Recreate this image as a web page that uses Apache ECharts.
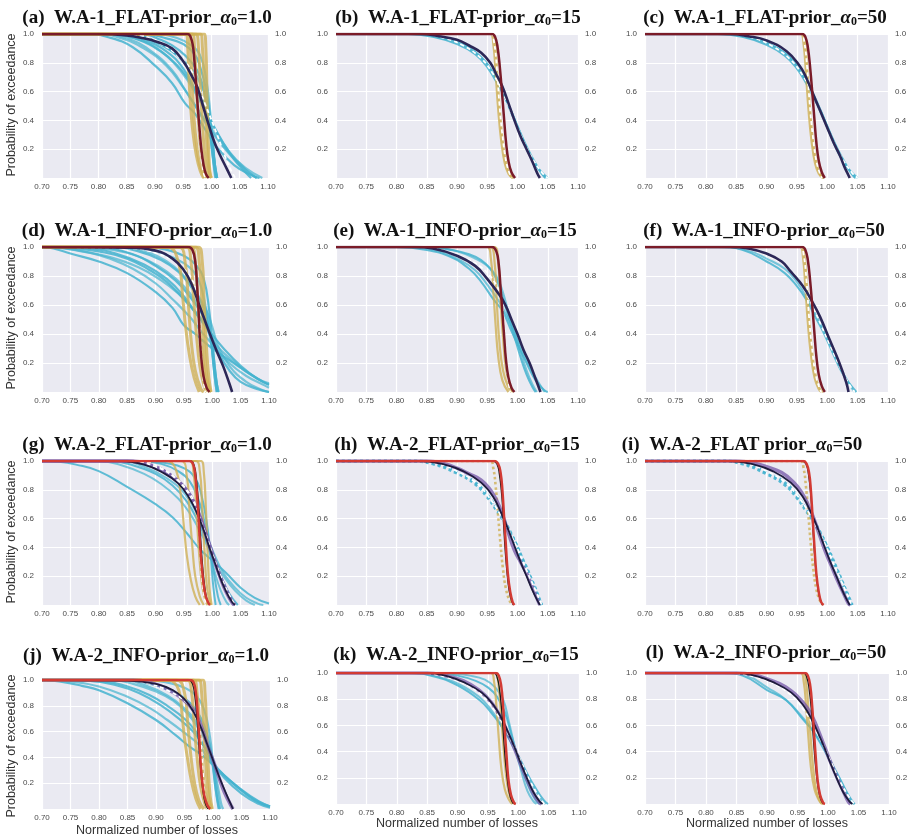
<!DOCTYPE html>
<html><head><meta charset="utf-8">
<script src="https://cdn.jsdelivr.net/npm/echarts@6/dist/echarts.min.js"></script>
<style>html,body{margin:0;padding:0;background:#fff}#c{width:911px;height:839px}</style>
</head><body><div id="c"></div><script>
// ---------- text / labels ----------
const panelLetters = ['a','b','c','d','e','f','g','h','i','j','k','l'];
const panelNames = ['W.A-1_FLAT-prior_','W.A-1_FLAT-prior_','W.A-1_FLAT-prior_',
  'W.A-1_INFO-prior_','W.A-1_INFO-prior_','W.A-1_INFO-prior_',
  'W.A-2_FLAT-prior_','W.A-2_FLAT-prior_','W.A-2_FLAT prior_',
  'W.A-2_INFO-prior_','W.A-2_INFO-prior_','W.A-2_INFO-prior_'];
const alphaValues = ['1.0','15','50','1.0','15','50','1.0','15','50','1.0','15','50'];
const yAxisTitle = 'Probability of exceedance';
const xAxisTitle = 'Normalized number of losses';
const xRange = [0.70, 1.10];
const xStep = 0.05;
const yTickLabels = ['0.2','0.4','0.6','0.8','1.0'];

// ---------- (a) ----------
const A_cyan = [
 [[0.70,1],[0.78,1],[0.82,0.975],[0.86,0.91],[0.90,0.78],[0.93,0.66],[0.953,0.52],[0.97,0.45],[0.99,0.33],[1.01,0.21],[1.04,0.09],[1.07,0.02],[1.085,0]],
 [[0.70,1],[0.80,1],[0.84,0.97],[0.88,0.90],[0.92,0.78],[0.95,0.63],[0.97,0.51],[0.99,0.38],[1.02,0.22],[1.05,0.09],[1.08,0]],
 [[0.70,1],[0.82,1],[0.87,0.96],[0.91,0.88],[0.94,0.78],[0.96,0.68],[0.98,0.56],[0.992,0.46],[0.998,0.30],[1.004,0.10],[1.009,0]],
 [[0.70,1],[0.85,1],[0.89,0.96],[0.93,0.88],[0.96,0.78],[0.98,0.66],[0.993,0.52],[1.0,0.35],[1.005,0.12],[1.01,0]],
 [[0.70,1],[0.88,1],[0.92,0.97],[0.95,0.93],[0.97,0.86],[0.98,0.77],[0.99,0.62],[0.998,0.40],[1.004,0.15],[1.01,0]],
 [[0.70,1],[0.83,1],[0.88,0.95],[0.92,0.85],[0.95,0.72],[0.97,0.60],[0.99,0.46],[1.01,0.31],[1.03,0.19],[1.06,0.06],[1.08,0]],
 [[0.70,1],[0.86,1],[0.90,0.95],[0.94,0.85],[0.96,0.75],[0.975,0.63],[0.99,0.49],[1.0,0.39],[1.02,0.25],[1.04,0.13],[1.06,0.04],[1.07,0]],
 [[0.70,1],[0.90,1],[0.94,0.97],[0.965,0.92],[0.98,0.85],[0.99,0.70],[0.998,0.45],[1.003,0.20],[1.008,0]],
 [[0.70,1],[0.84,1],[0.88,0.96],[0.92,0.88],[0.95,0.76],[0.97,0.62],[0.985,0.50],[0.995,0.42],[1.002,0.25],[1.007,0.06],[1.01,0]],
 [[0.70,1],[0.81,1],[0.85,0.97],[0.89,0.89],[0.93,0.75],[0.955,0.60],[0.975,0.48],[1.0,0.34],[1.03,0.18],[1.06,0.07],[1.09,0]],
 [[0.70,1],[0.87,1],[0.91,0.96],[0.945,0.88],[0.965,0.80],[0.978,0.72],[0.988,0.58],[0.995,0.40],[1.0,0.22],[1.005,0.05],[1.007,0]]
];
const A_gold = [
 [[0.70,1],[0.955,1],[0.958,0.9],[0.96,0.7],[0.963,0.5],[0.967,0.32],[0.973,0.16],[0.98,0.05],[0.986,0]],
 [[0.70,1],[0.96,1],[0.963,0.9],[0.966,0.65],[0.969,0.42],[0.974,0.22],[0.98,0.08],[0.988,0]],
 [[0.70,1],[0.966,1],[0.97,0.9],[0.973,0.65],[0.977,0.40],[0.981,0.2],[0.987,0.06],[0.992,0]],
 [[0.70,1],[0.972,1],[0.977,0.9],[0.98,0.65],[0.984,0.38],[0.988,0.16],[0.993,0.04],[0.996,0]],
 [[0.70,1],[0.98,1],[0.984,0.9],[0.987,0.65],[0.99,0.38],[0.993,0.15],[0.997,0.03],[1.0,0]],
 [[0.70,1],[0.987,1],[0.99,0.9],[0.992,0.6],[0.994,0.3],[0.996,0.1],[0.999,0]]
];
const A_red = [[0.70,1],[0.958,1],[0.963,0.98],[0.967,0.92],[0.970,0.80],[0.973,0.64],[0.976,0.48],[0.979,0.33],[0.982,0.20],[0.986,0.09],[0.99,0.03],[0.995,0]];
const A_navy = [[0.70,1],[0.80,1],[0.85,0.99],[0.88,0.97],[0.90,0.95],[0.93,0.90],[0.95,0.81],[0.965,0.71],[0.975,0.63],[0.985,0.50],[0.995,0.37],[1.005,0.25],[1.015,0.16],[1.025,0.08],[1.035,0]];
const A_white = [
 [[0.70,1],[0.85,1],[0.89,0.97],[0.92,0.92],[0.95,0.82],[0.965,0.74],[0.972,0.66],[0.976,0.5],[0.979,0.3],[0.983,0.12],[0.987,0.02],[0.99,0]],
 [[0.70,1],[0.86,1],[0.90,0.95],[0.94,0.85],[0.97,0.68],[0.99,0.50],[1.01,0.30],[1.025,0.14],[1.035,0.05],[1.042,0]]
];

// ---------- (b) ----------
const B_cyan = [
 [[0.70,1],[0.82,1],[0.86,0.98],[0.90,0.93],[0.93,0.86],[0.95,0.77],[0.97,0.63],[0.98,0.55],[0.99,0.45],[1.0,0.35],[1.01,0.25],[1.02,0.16],[1.03,0.09],[1.04,0.04],[1.05,0]],
 [[0.70,1],[0.83,1],[0.87,0.975],[0.90,0.94],[0.93,0.87],[0.95,0.79],[0.97,0.65],[0.98,0.56],[0.99,0.46],[1.0,0.36],[1.01,0.26],[1.02,0.17],[1.03,0.09],[1.04,0.03],[1.047,0]],
 [[0.70,1],[0.84,1],[0.88,0.97],[0.91,0.93],[0.94,0.84],[0.96,0.73],[0.975,0.60],[0.99,0.46],[1.0,0.36],[1.015,0.22],[1.03,0.10],[1.042,0.02],[1.046,0]]
];
const B_gold = [
 [[0.70,1],[0.955,1],[0.96,0.93],[0.964,0.72],[0.968,0.48],[0.973,0.26],[0.979,0.10],[0.985,0.03],[0.992,0]],
 [[0.70,1],[0.958,1],[0.963,0.92],[0.967,0.70],[0.971,0.46],[0.976,0.24],[0.982,0.09],[0.988,0.02],[0.994,0]]
];
const B_red = [[0.70,1],[0.958,1],[0.963,0.98],[0.967,0.91],[0.971,0.76],[0.975,0.56],[0.978,0.40],[0.981,0.25],[0.985,0.12],[0.99,0.04],[0.996,0]];
const B_navy = [[0.70,1],[0.84,1],[0.87,0.985],[0.90,0.96],[0.92,0.92],[0.94,0.87],[0.955,0.80],[0.965,0.72],[0.975,0.635],[0.985,0.52],[0.995,0.40],[1.005,0.29],[1.015,0.20],[1.025,0.11],[1.033,0.03],[1.037,0]];
const B_white = [
 [[0.70,1],[0.84,1],[0.88,0.97],[0.91,0.92],[0.94,0.83],[0.96,0.72],[0.975,0.60],[0.99,0.45],[1.0,0.35],[1.02,0.17],[1.04,0.04],[1.05,0]],
 [[0.70,1],[0.956,1],[0.961,0.95],[0.966,0.76],[0.97,0.52],[0.975,0.30],[0.982,0.10],[0.99,0]]
];

// ---------- (c) ----------
const C_cyan = [
 [[0.70,1],[0.82,1],[0.86,0.98],[0.90,0.925],[0.93,0.85],[0.95,0.76],[0.965,0.66],[0.98,0.54],[0.99,0.45],[1.0,0.35],[1.01,0.25],[1.02,0.16],[1.03,0.09],[1.04,0.04],[1.05,0]],
 [[0.70,1],[0.83,1],[0.87,0.975],[0.90,0.935],[0.93,0.87],[0.95,0.78],[0.97,0.64],[0.98,0.56],[0.99,0.46],[1.0,0.36],[1.01,0.26],[1.02,0.17],[1.03,0.09],[1.04,0.03],[1.047,0]],
 [[0.70,1],[0.84,1],[0.88,0.97],[0.91,0.92],[0.94,0.83],[0.96,0.71],[0.975,0.59],[0.99,0.46],[1.0,0.36],[1.015,0.22],[1.03,0.10],[1.042,0.02],[1.046,0]]
];
const C_gold = [
 [[0.70,1],[0.956,1],[0.961,0.93],[0.965,0.72],[0.969,0.48],[0.974,0.26],[0.98,0.10],[0.986,0.03],[0.993,0]],
 [[0.70,1],[0.959,1],[0.964,0.92],[0.968,0.70],[0.972,0.46],[0.977,0.24],[0.983,0.09],[0.989,0.02],[0.995,0]]
];
const C_red = [[0.70,1],[0.959,1],[0.964,0.98],[0.968,0.91],[0.972,0.76],[0.976,0.56],[0.979,0.40],[0.982,0.25],[0.986,0.12],[0.991,0.04],[0.996,0]];
const C_navy = [[0.70,1],[0.84,1],[0.87,0.985],[0.90,0.956],[0.933,0.88],[0.955,0.776],[0.965,0.70],[0.977,0.58],[0.988,0.47],[0.999,0.36],[1.01,0.25],[1.021,0.154],[1.028,0.08],[1.034,0.027],[1.037,0]];
const C_white = [
 [[0.70,1],[0.84,1],[0.88,0.97],[0.91,0.915],[0.94,0.82],[0.96,0.71],[0.975,0.59],[0.99,0.45],[1.0,0.35],[1.02,0.17],[1.04,0.04],[1.05,0]],
 [[0.70,1],[0.957,1],[0.962,0.95],[0.967,0.76],[0.971,0.52],[0.976,0.30],[0.983,0.10],[0.991,0]]
];

// ---------- (d) ----------
const D_cyan = [
 [[0.70,1],[0.72,0.99],[0.75,0.955],[0.80,0.90],[0.85,0.82],[0.90,0.69],[0.93,0.58],[0.95,0.46],[0.97,0.40],[1.0,0.30],[1.03,0.22],[1.06,0.14],[1.09,0.07],[1.10,0.05]],
 [[0.70,1],[0.74,0.99],[0.78,0.965],[0.82,0.92],[0.86,0.85],[0.90,0.75],[0.93,0.64],[0.96,0.52],[0.98,0.42],[1.0,0.33],[1.03,0.20],[1.06,0.11],[1.09,0.05],[1.10,0.03]],
 [[0.70,1],[0.76,0.99],[0.80,0.97],[0.85,0.92],[0.89,0.84],[0.92,0.76],[0.95,0.64],[0.97,0.55],[0.99,0.45],[1.0,0.38],[1.01,0.28],[1.03,0.15],[1.05,0.07],[1.08,0.02],[1.10,0]],
 [[0.70,1],[0.80,0.99],[0.85,0.96],[0.89,0.90],[0.92,0.83],[0.95,0.73],[0.97,0.63],[0.985,0.52],[0.995,0.40],[1.0,0.28],[1.005,0.12],[1.01,0.02],[1.012,0]],
 [[0.70,1],[0.82,1],[0.87,0.97],[0.91,0.91],[0.94,0.83],[0.96,0.74],[0.98,0.62],[0.99,0.52],[0.998,0.35],[1.003,0.15],[1.008,0]],
 [[0.70,1],[0.86,1],[0.90,0.97],[0.93,0.93],[0.96,0.86],[0.975,0.78],[0.985,0.65],[0.995,0.45],[1.0,0.28],[1.005,0.08],[1.008,0]],
 [[0.70,1],[0.78,0.99],[0.83,0.955],[0.88,0.88],[0.92,0.78],[0.95,0.66],[0.975,0.52],[0.995,0.42],[1.02,0.30],[1.05,0.18],[1.08,0.09],[1.10,0.05]],
 [[0.70,1],[0.84,0.995],[0.88,0.97],[0.92,0.90],[0.95,0.80],[0.97,0.70],[0.99,0.56],[1.0,0.45],[1.01,0.32],[1.03,0.18],[1.06,0.07],[1.09,0.01],[1.10,0]],
 [[0.70,1],[0.88,1],[0.92,0.98],[0.95,0.94],[0.97,0.88],[0.985,0.78],[0.995,0.55],[1.0,0.35],[1.005,0.15],[1.01,0]],
 [[0.70,1],[0.73,0.995],[0.77,0.97],[0.82,0.93],[0.87,0.86],[0.91,0.77],[0.94,0.68],[0.965,0.58],[0.985,0.48],[1.0,0.36],[1.02,0.27],[1.05,0.17],[1.08,0.09],[1.10,0.06]],
 [[0.70,1],[0.80,0.995],[0.86,0.95],[0.90,0.87],[0.935,0.77],[0.96,0.66],[0.98,0.55],[0.993,0.45],[1.0,0.32],[1.006,0.12],[1.01,0]]
];
const D_gold = [
 [[0.70,1],[0.92,1],[0.94,0.90],[0.948,0.65],[0.953,0.45],[0.96,0.25],[0.968,0.10],[0.977,0]],
 [[0.70,1],[0.94,1],[0.952,0.90],[0.958,0.6],[0.963,0.35],[0.97,0.15],[0.98,0.02],[0.985,0]],
 [[0.70,1],[0.955,1],[0.962,0.92],[0.967,0.65],[0.972,0.40],[0.978,0.18],[0.985,0.05],[0.99,0]],
 [[0.70,1],[0.962,1],[0.97,0.9],[0.975,0.6],[0.98,0.35],[0.986,0.14],[0.992,0.03],[0.995,0]],
 [[0.70,1],[0.97,1],[0.977,0.9],[0.982,0.6],[0.986,0.3],[0.99,0.12],[0.995,0.02],[0.998,0]],
 [[0.70,1],[0.975,1],[0.982,0.92],[0.986,0.6],[0.99,0.3],[0.994,0.1],[0.998,0]]
];
const D_red = [[0.70,1],[0.958,1],[0.965,0.98],[0.970,0.90],[0.973,0.75],[0.976,0.55],[0.978,0.38],[0.981,0.22],[0.985,0.10],[0.99,0.03],[0.995,0]];
const D_navy = [[0.70,1],[0.85,0.995],[0.90,0.975],[0.93,0.92],[0.95,0.84],[0.963,0.75],[0.978,0.59],[0.993,0.43],[1.007,0.29],[1.019,0.18],[1.03,0.06],[1.035,0]];
const D_white = [
 [[0.70,1],[0.86,0.99],[0.90,0.96],[0.93,0.91],[0.95,0.85],[0.965,0.77],[0.973,0.68],[0.977,0.5],[0.98,0.3],[0.984,0.1],[0.988,0]]
];

// ---------- (e) ----------
const E_cyan = [
 [[0.70,1],[0.80,1],[0.85,0.98],[0.89,0.93],[0.92,0.85],[0.94,0.76],[0.96,0.64],[0.975,0.56],[0.99,0.42],[1.0,0.33],[1.015,0.20],[1.03,0.08],[1.045,0.01],[1.05,0]],
 [[0.70,1],[0.83,1],[0.87,0.97],[0.90,0.92],[0.93,0.84],[0.95,0.74],[0.97,0.62],[0.985,0.50],[1.0,0.36],[1.015,0.22],[1.03,0.10],[1.04,0.03],[1.045,0]],
 [[0.70,1],[0.85,1],[0.89,0.98],[0.92,0.95],[0.94,0.91],[0.955,0.85],[0.965,0.78],[0.975,0.66],[0.985,0.52],[0.995,0.38],[1.005,0.24],[1.015,0.12],[1.025,0.03],[1.03,0]],
 [[0.70,1],[0.86,1],[0.90,0.97],[0.93,0.92],[0.95,0.87],[0.965,0.80],[0.975,0.70],[0.985,0.55],[0.995,0.42],[1.005,0.28],[1.015,0.15],[1.025,0.05],[1.032,0]]
];
const E_gold = [
 [[0.70,1],[0.95,1],[0.956,0.92],[0.96,0.7],[0.964,0.45],[0.968,0.25],[0.975,0.08],[0.985,0]],
 [[0.70,1],[0.955,1],[0.962,0.9],[0.966,0.6],[0.97,0.35],[0.976,0.15],[0.985,0.03],[0.99,0]],
 [[0.70,1],[0.962,1],[0.968,0.9],[0.972,0.62],[0.976,0.38],[0.981,0.16],[0.988,0.04],[0.993,0]]
];
const E_red = [[0.70,1],[0.958,1],[0.965,0.97],[0.969,0.88],[0.972,0.72],[0.975,0.55],[0.978,0.38],[0.981,0.22],[0.985,0.10],[0.99,0.03],[0.995,0]];
const E_navy = [[0.70,1],[0.83,1],[0.86,0.99],[0.90,0.94],[0.93,0.87],[0.95,0.78],[0.97,0.67],[0.98,0.60],[0.99,0.50],[1.0,0.40],[1.01,0.29],[1.02,0.20],[1.03,0.09],[1.038,0]];
const E_white = [
 [[0.70,1],[0.85,1],[0.88,0.97],[0.91,0.93],[0.94,0.86],[0.96,0.77],[0.972,0.66],[0.977,0.5],[0.98,0.3],[0.984,0.1],[0.988,0]]
];

// ---------- (f) ----------
const F_cyan = [
 [[0.70,1],[0.82,1],[0.86,0.98],[0.90,0.90],[0.93,0.82],[0.95,0.73],[0.965,0.64],[0.98,0.52],[0.995,0.40],[1.01,0.26],[1.025,0.13],[1.04,0.04],[1.048,0]],
 [[0.70,1],[0.83,1],[0.87,0.975],[0.90,0.92],[0.93,0.85],[0.95,0.76],[0.965,0.66],[0.98,0.54],[0.995,0.42],[1.01,0.28],[1.025,0.14],[1.04,0.03],[1.045,0]]
];
const F_gold = [
 [[0.70,1],[0.955,1],[0.96,0.93],[0.964,0.72],[0.968,0.48],[0.973,0.26],[0.979,0.10],[0.986,0.02],[0.99,0]],
 [[0.70,1],[0.958,1],[0.963,0.92],[0.967,0.70],[0.971,0.46],[0.976,0.24],[0.982,0.09],[0.988,0.02],[0.993,0]]
];
const F_red = [[0.70,1],[0.959,1],[0.964,0.98],[0.968,0.91],[0.972,0.76],[0.976,0.56],[0.979,0.40],[0.982,0.25],[0.986,0.12],[0.991,0.04],[0.996,0]];
const F_navy = [[0.70,1],[0.84,1],[0.87,0.99],[0.90,0.955],[0.925,0.90],[0.94,0.83],[0.96,0.73],[0.977,0.61],[0.988,0.52],[1.004,0.36],[1.02,0.20],[1.031,0.07],[1.035,0]];
const F_white = [
 [[0.70,1],[0.84,1],[0.88,0.975],[0.91,0.925],[0.94,0.84],[0.96,0.72],[0.975,0.60],[0.99,0.46],[1.005,0.32],[1.02,0.18],[1.035,0.06],[1.045,0]],
 [[0.70,1],[0.956,1],[0.961,0.95],[0.966,0.76],[0.97,0.52],[0.975,0.30],[0.982,0.10],[0.99,0]]
];

// ---------- (g) ----------
const G_cyan = [
 [[0.70,1],[0.73,0.995],[0.76,0.975],[0.80,0.93],[0.85,0.82],[0.90,0.70],[0.93,0.61],[0.955,0.50],[0.98,0.38],[1.0,0.31],[1.025,0.22],[1.05,0.12],[1.075,0.05],[1.10,0.01]],
 [[0.70,1],[0.80,1],[0.84,0.97],[0.88,0.91],[0.91,0.84],[0.94,0.74],[0.96,0.64],[0.98,0.50],[0.99,0.42],[1.0,0.32],[1.02,0.20],[1.04,0.10],[1.06,0.03],[1.075,0]],
 [[0.70,1],[0.82,1],[0.86,0.97],[0.90,0.91],[0.93,0.83],[0.955,0.72],[0.975,0.58],[0.99,0.44],[1.0,0.34],[1.015,0.20],[1.03,0.08],[1.045,0]],
 [[0.70,1],[0.85,1],[0.89,0.97],[0.92,0.92],[0.95,0.82],[0.97,0.68],[0.985,0.52],[0.995,0.38],[1.005,0.22],[1.015,0.10],[1.025,0.02],[1.03,0]],
 [[0.70,1],[0.87,1],[0.91,0.98],[0.94,0.93],[0.96,0.86],[0.975,0.74],[0.985,0.60],[0.995,0.42],[1.003,0.22],[1.01,0.06],[1.015,0]],
 [[0.70,1],[0.84,1],[0.88,0.96],[0.92,0.88],[0.95,0.78],[0.975,0.62],[0.99,0.48],[1.005,0.34],[1.02,0.22],[1.04,0.12],[1.06,0.05],[1.08,0.01],[1.09,0]],
 [[0.70,1],[0.88,1],[0.92,0.985],[0.95,0.95],[0.97,0.88],[0.98,0.78],[0.99,0.58],[0.997,0.35],[1.002,0.12],[1.006,0]]
];
const G_gold = [
 [[0.70,1],[0.92,1],[0.935,0.95],[0.945,0.75],[0.95,0.55],[0.955,0.35],[0.962,0.18],[0.97,0.06],[0.978,0]],
 [[0.70,1],[0.945,1],[0.955,0.9],[0.96,0.65],[0.965,0.4],[0.97,0.2],[0.978,0.06],[0.985,0]],
 [[0.70,1],[0.96,1],[0.967,0.92],[0.972,0.65],[0.977,0.35],[0.982,0.14],[0.988,0.03],[0.992,0]],
 [[0.70,1],[0.97,1],[0.978,0.93],[0.982,0.7],[0.986,0.4],[0.99,0.15],[0.995,0.03],[0.998,0]],
 [[0.70,1],[0.98,1],[0.985,0.93],[0.989,0.65],[0.992,0.35],[0.995,0.12],[0.999,0]]
];
const G_purple = [
 [[0.70,1],[0.85,1],[0.88,0.98],[0.91,0.94],[0.94,0.86],[0.96,0.77],[0.975,0.65],[0.99,0.48],[1.0,0.36],[1.01,0.24],[1.02,0.13],[1.03,0.05],[1.038,0]],
 [[0.70,1],[0.86,1],[0.89,0.975],[0.92,0.92],[0.945,0.84],[0.962,0.75],[0.977,0.62],[0.99,0.47],[1.0,0.35],[1.012,0.22],[1.024,0.11],[1.034,0.03],[1.04,0]]
];
const G_navy = [[0.70,1],[0.84,1],[0.88,0.975],[0.91,0.925],[0.94,0.845],[0.96,0.74],[0.975,0.62],[0.985,0.52],[0.995,0.40],[1.005,0.29],[1.015,0.18],[1.025,0.09],[1.035,0.02],[1.04,0]];
const G_red = [[0.70,1],[0.96,1],[0.966,0.98],[0.97,0.9],[0.974,0.72],[0.977,0.52],[0.98,0.34],[0.984,0.17],[0.988,0.07],[0.993,0.015],[0.996,0]];
const G_black = [[0.70,1],[0.962,1],[0.968,0.97],[0.972,0.88],[0.976,0.70],[0.979,0.5],[0.982,0.32],[0.986,0.15],[0.99,0.05],[0.995,0]];
const G_white = [
 [[0.70,1],[0.86,1],[0.90,0.96],[0.93,0.90],[0.955,0.80],[0.97,0.70],[0.976,0.55],[0.979,0.35],[0.983,0.14],[0.988,0.02],[0.99,0]],
 [[0.70,1],[0.87,1],[0.91,0.95],[0.94,0.86],[0.965,0.72],[0.985,0.53],[1.0,0.36],[1.015,0.20],[1.03,0.07],[1.04,0]]
];

// ---------- (h) ----------
const H_cyan = [
 [[0.70,1],[0.82,1],[0.86,0.98],[0.90,0.915],[0.93,0.84],[0.95,0.75],[0.965,0.66],[0.976,0.59],[0.988,0.50],[0.998,0.42],[1.007,0.33],[1.015,0.26],[1.023,0.18],[1.031,0.10],[1.036,0.04],[1.04,0]],
 [[0.70,1],[0.83,1],[0.87,0.975],[0.90,0.925],[0.93,0.85],[0.95,0.765],[0.965,0.675],[0.978,0.59],[0.99,0.49],[1.0,0.40],[1.01,0.30],[1.02,0.20],[1.03,0.10],[1.037,0.03],[1.04,0]]
];
const H_gold = [[[0.70,1],[0.955,1],[0.96,0.95],[0.964,0.82],[0.968,0.62],[0.972,0.42],[0.976,0.25],[0.981,0.11],[0.987,0.03],[0.992,0]]];
const H_purple = [[[0.70,1],[0.85,1],[0.88,0.98],[0.90,0.95],[0.92,0.91],[0.94,0.867],[0.955,0.80],[0.965,0.73],[0.975,0.63],[0.985,0.50],[0.995,0.38],[1.005,0.30],[1.015,0.22],[1.025,0.12],[1.033,0.04],[1.037,0]]];
const H_navy = [[0.70,1],[0.84,1],[0.88,0.975],[0.91,0.93],[0.94,0.85],[0.96,0.75],[0.975,0.62],[0.985,0.52],[0.995,0.41],[1.005,0.30],[1.015,0.20],[1.025,0.10],[1.033,0.03],[1.037,0]];
const H_red = [[0.70,1],[0.962,1],[0.968,0.98],[0.972,0.92],[0.975,0.80],[0.978,0.60],[0.981,0.40],[0.984,0.22],[0.988,0.09],[0.992,0.02],[0.995,0]];
const H_black = [[0.70,1],[0.96,1],[0.966,0.98],[0.97,0.91],[0.974,0.76],[0.977,0.56],[0.98,0.36],[0.984,0.17],[0.988,0.06],[0.993,0]];
const H_white = [[[0.70,1],[0.83,1],[0.87,0.98],[0.90,0.93],[0.93,0.855],[0.95,0.765],[0.97,0.64],[0.985,0.52],[1.0,0.39],[1.015,0.24],[1.03,0.10],[1.04,0]]];

// ---------- (i) ----------
const I_cyan = [
 [[0.70,1],[0.82,1],[0.86,0.98],[0.90,0.91],[0.93,0.835],[0.95,0.745],[0.965,0.655],[0.976,0.59],[0.988,0.50],[0.998,0.42],[1.008,0.33],[1.016,0.25],[1.024,0.17],[1.032,0.09],[1.038,0.03],[1.041,0]],
 [[0.70,1],[0.83,1],[0.87,0.975],[0.90,0.92],[0.93,0.85],[0.95,0.76],[0.965,0.67],[0.978,0.585],[0.99,0.49],[1.0,0.40],[1.01,0.30],[1.02,0.20],[1.03,0.10],[1.037,0.03],[1.04,0]]
];
const I_gold = [[[0.70,1],[0.956,1],[0.961,0.95],[0.965,0.82],[0.969,0.62],[0.973,0.42],[0.977,0.25],[0.982,0.11],[0.988,0.03],[0.993,0]]];
const I_purple = [[[0.70,1],[0.85,1],[0.88,0.985],[0.90,0.96],[0.925,0.92],[0.945,0.85],[0.958,0.78],[0.968,0.70],[0.977,0.61],[0.987,0.49],[0.997,0.37],[1.007,0.27],[1.017,0.17],[1.027,0.08],[1.035,0.01],[1.038,0]]];
const I_navy = [[0.70,1],[0.84,1],[0.88,0.975],[0.91,0.93],[0.94,0.85],[0.96,0.75],[0.975,0.625],[0.985,0.525],[0.995,0.41],[1.005,0.30],[1.015,0.20],[1.025,0.10],[1.033,0.03],[1.037,0]];
const I_red = [[0.70,1],[0.961,1],[0.966,0.98],[0.97,0.92],[0.973,0.80],[0.976,0.60],[0.979,0.40],[0.982,0.22],[0.986,0.09],[0.99,0.02],[0.994,0]];
const I_black = [[0.70,1],[0.959,1],[0.965,0.98],[0.969,0.91],[0.973,0.76],[0.976,0.56],[0.979,0.36],[0.983,0.17],[0.987,0.06],[0.992,0]];
const I_white = [[[0.70,1],[0.83,1],[0.87,0.98],[0.90,0.93],[0.93,0.855],[0.95,0.765],[0.97,0.64],[0.985,0.52],[1.0,0.39],[1.015,0.24],[1.03,0.10],[1.04,0]]];

// ---------- (j) ----------
const J_cyan = [
 [[0.70,1],[0.73,0.99],[0.77,0.955],[0.80,0.92],[0.85,0.82],[0.90,0.69],[0.935,0.57],[0.96,0.48],[0.98,0.42],[1.0,0.34],[1.025,0.24],[1.06,0.11],[1.08,0.05],[1.10,0.02]],
 [[0.70,1],[0.75,0.99],[0.80,0.95],[0.85,0.87],[0.89,0.78],[0.92,0.69],[0.95,0.59],[0.975,0.50],[0.99,0.40],[1.01,0.30],[1.04,0.18],[1.07,0.08],[1.10,0.02]],
 [[0.70,1],[0.78,0.995],[0.83,0.96],[0.87,0.90],[0.91,0.80],[0.94,0.70],[0.965,0.60],[0.985,0.48],[1.0,0.36],[1.02,0.24],[1.05,0.12],[1.08,0.04],[1.10,0.01]],
 [[0.70,1],[0.82,1],[0.86,0.97],[0.90,0.91],[0.93,0.84],[0.955,0.74],[0.975,0.62],[0.99,0.50],[1.0,0.38],[1.005,0.22],[1.01,0.06],[1.013,0]],
 [[0.70,1],[0.85,1],[0.89,0.97],[0.92,0.93],[0.95,0.86],[0.97,0.77],[0.985,0.64],[0.995,0.48],[1.0,0.32],[1.005,0.14],[1.01,0]],
 [[0.70,1],[0.88,1],[0.92,0.98],[0.95,0.94],[0.97,0.88],[0.985,0.76],[0.995,0.55],[1.0,0.35],[1.005,0.15],[1.01,0.02],[1.012,0]],
 [[0.70,1],[0.80,0.99],[0.85,0.95],[0.89,0.88],[0.92,0.80],[0.95,0.70],[0.97,0.60],[0.985,0.48],[1.0,0.36],[1.02,0.26],[1.05,0.15],[1.08,0.06],[1.10,0.02]],
 [[0.70,1],[0.84,1],[0.88,0.96],[0.92,0.88],[0.95,0.78],[0.97,0.68],[0.985,0.56],[0.995,0.44],[1.003,0.30],[1.01,0.14],[1.015,0.03],[1.018,0]]
];
const J_gold = [
 [[0.70,1],[0.92,1],[0.94,0.92],[0.946,0.72],[0.95,0.55],[0.955,0.40],[0.962,0.22],[0.97,0.08],[0.978,0]],
 [[0.70,1],[0.935,1],[0.95,0.90],[0.956,0.65],[0.961,0.42],[0.967,0.22],[0.975,0.07],[0.984,0]],
 [[0.70,1],[0.955,1],[0.962,0.92],[0.967,0.65],[0.972,0.40],[0.978,0.18],[0.985,0.05],[0.99,0]],
 [[0.70,1],[0.965,1],[0.972,0.9],[0.977,0.6],[0.981,0.35],[0.986,0.14],[0.992,0.03],[0.995,0]],
 [[0.70,1],[0.975,1],[0.98,0.9],[0.984,0.6],[0.988,0.3],[0.992,0.1],[0.996,0.02],[0.998,0]],
 [[0.70,1],[0.982,1],[0.986,0.9],[0.989,0.6],[0.992,0.3],[0.995,0.1],[0.999,0]]
];
const J_purple = [[[0.70,1],[0.86,1],[0.89,0.98],[0.92,0.93],[0.945,0.86],[0.965,0.77],[0.978,0.66],[0.99,0.50],[1.0,0.38],[1.01,0.25],[1.02,0.13],[1.03,0.04],[1.035,0]]];
const J_navy = [[0.70,1],[0.85,0.995],[0.90,0.97],[0.93,0.92],[0.95,0.85],[0.965,0.76],[0.98,0.62],[0.99,0.50],[1.0,0.38],[1.01,0.26],[1.02,0.15],[1.03,0.05],[1.035,0]];
const J_red = [[0.70,1],[0.96,1],[0.966,0.98],[0.97,0.9],[0.973,0.75],[0.976,0.55],[0.978,0.38],[0.981,0.22],[0.985,0.10],[0.99,0.03],[0.995,0]];
const J_black = [[0.70,1],[0.958,1],[0.964,0.97],[0.968,0.88],[0.972,0.70],[0.975,0.5],[0.978,0.32],[0.982,0.15],[0.986,0.05],[0.991,0]];
const J_white = [[[0.70,1],[0.85,1],[0.89,0.97],[0.92,0.92],[0.95,0.84],[0.965,0.76],[0.975,0.66],[0.979,0.5],[0.982,0.3],[0.986,0.1],[0.99,0]]];

// ---------- (k) ----------
const K_cyan = [
 [[0.70,1],[0.82,1],[0.86,0.975],[0.90,0.905],[0.937,0.79],[0.955,0.70],[0.97,0.61],[0.985,0.50],[1.0,0.37],[1.015,0.23],[1.03,0.11],[1.042,0.03],[1.049,0]],
 [[0.70,1],[0.83,1],[0.87,0.97],[0.90,0.92],[0.935,0.82],[0.955,0.72],[0.972,0.60],[0.988,0.47],[1.0,0.36],[1.015,0.22],[1.03,0.09],[1.04,0.02],[1.045,0]],
 [[0.70,1],[0.86,1],[0.90,0.98],[0.93,0.94],[0.95,0.89],[0.965,0.82],[0.978,0.70],[0.988,0.54],[0.998,0.38],[1.008,0.24],[1.02,0.10],[1.03,0.02],[1.035,0]],
 [[0.70,1],[0.88,1],[0.92,0.98],[0.945,0.95],[0.962,0.89],[0.975,0.80],[0.985,0.62],[0.995,0.42],[1.005,0.25],[1.015,0.10],[1.025,0.02],[1.03,0]]
];
const K_gold = [
 [[0.70,1],[0.955,1],[0.96,0.94],[0.964,0.75],[0.968,0.5],[0.972,0.28],[0.978,0.11],[0.985,0.03],[0.99,0]],
 [[0.70,1],[0.962,1],[0.967,0.93],[0.971,0.72],[0.975,0.48],[0.979,0.26],[0.984,0.1],[0.99,0.02],[0.995,0]]
];
const K_purple = [[[0.70,1],[0.85,1],[0.88,0.98],[0.91,0.94],[0.935,0.87],[0.955,0.78],[0.97,0.67],[0.982,0.55],[0.995,0.41],[1.005,0.29],[1.015,0.18],[1.025,0.08],[1.035,0.01],[1.038,0]]];
const K_navy = [[0.70,1],[0.85,1],[0.88,0.98],[0.91,0.93],[0.94,0.85],[0.96,0.75],[0.975,0.63],[0.985,0.53],[0.995,0.42],[1.005,0.30],[1.015,0.19],[1.025,0.09],[1.035,0.02],[1.04,0]];
const K_red = [[0.70,1],[0.963,1],[0.968,0.98],[0.972,0.9],[0.975,0.75],[0.978,0.55],[0.981,0.35],[0.984,0.18],[0.988,0.07],[0.993,0.01],[0.996,0]];
const K_black = [[0.70,1],[0.96,1],[0.965,0.97],[0.969,0.88],[0.973,0.70],[0.976,0.5],[0.979,0.32],[0.983,0.15],[0.987,0.05],[0.992,0]];
const K_white = [[[0.70,1],[0.84,1],[0.88,0.97],[0.91,0.92],[0.94,0.83],[0.96,0.72],[0.975,0.61],[0.99,0.47],[1.005,0.32],[1.02,0.17],[1.035,0.05],[1.043,0]]];

// ---------- (l) ----------
const L_cyan = [
 [[0.70,1],[0.83,1],[0.86,0.98],[0.90,0.87],[0.932,0.79],[0.96,0.64],[0.975,0.56],[0.99,0.45],[1.005,0.32],[1.02,0.19],[1.032,0.08],[1.04,0.02],[1.044,0]],
 [[0.70,1],[0.84,1],[0.87,0.975],[0.90,0.89],[0.93,0.80],[0.955,0.68],[0.972,0.58],[0.988,0.46],[1.003,0.33],[1.018,0.20],[1.03,0.09],[1.04,0.01],[1.043,0]]
];
const L_gold = [
 [[0.70,1],[0.955,1],[0.96,0.94],[0.964,0.75],[0.968,0.5],[0.972,0.28],[0.978,0.11],[0.985,0.03],[0.99,0]],
 [[0.70,1],[0.959,1],[0.964,0.93],[0.968,0.72],[0.972,0.48],[0.976,0.26],[0.981,0.1],[0.987,0.02],[0.992,0]]
];
const L_purple = [[[0.70,1],[0.85,1],[0.88,0.985],[0.90,0.955],[0.93,0.895],[0.96,0.77],[0.975,0.66],[0.985,0.55],[0.995,0.43],[1.005,0.31],[1.015,0.20],[1.025,0.10],[1.033,0.02],[1.037,0]]];
const L_navy = [[0.70,1],[0.85,1],[0.88,0.98],[0.91,0.93],[0.94,0.85],[0.96,0.75],[0.975,0.63],[0.985,0.53],[0.995,0.42],[1.005,0.30],[1.015,0.19],[1.025,0.09],[1.035,0.02],[1.04,0]];
const L_red = [[0.70,1],[0.962,1],[0.967,0.98],[0.971,0.9],[0.974,0.75],[0.977,0.55],[0.98,0.35],[0.983,0.18],[0.987,0.07],[0.992,0.01],[0.995,0]];
const L_black = [[0.70,1],[0.96,1],[0.965,0.97],[0.969,0.88],[0.973,0.70],[0.976,0.5],[0.979,0.32],[0.983,0.15],[0.987,0.05],[0.992,0]];
const L_white = [[[0.70,1],[0.84,1],[0.88,0.97],[0.91,0.92],[0.94,0.83],[0.96,0.72],[0.975,0.61],[0.99,0.47],[1.005,0.32],[1.02,0.17],[1.035,0.05],[1.043,0]]];

// ---------- assembly ----------
const panels = [
 {cyan:A_cyan, gold:A_gold, purple:[], white:A_white, navy:A_navy, red:A_red, black:null, wide:true},
 {cyan:B_cyan, gold:B_gold, purple:[], white:B_white, navy:B_navy, red:B_red, black:null},
 {cyan:C_cyan, gold:C_gold, purple:[], white:C_white, navy:C_navy, red:C_red, black:null},
 {cyan:D_cyan, gold:D_gold, purple:[], white:D_white, navy:D_navy, red:D_red, black:null, wide:true},
 {cyan:E_cyan, gold:E_gold, purple:[], white:E_white, navy:E_navy, red:E_red, black:null},
 {cyan:F_cyan, gold:F_gold, purple:[], white:F_white, navy:F_navy, red:F_red, black:null},
 {cyan:G_cyan, gold:G_gold, purple:G_purple, white:G_white, navy:G_navy, red:G_red, black:G_black},
 {cyan:H_cyan, gold:H_gold, purple:H_purple, white:H_white, navy:H_navy, red:H_red, black:H_black, dotted:true},
 {cyan:I_cyan, gold:I_gold, purple:I_purple, white:I_white, navy:I_navy, red:I_red, black:I_black, dotted:true},
 {cyan:J_cyan, gold:J_gold, purple:J_purple, white:J_white, navy:J_navy, red:J_red, black:J_black, wide:true},
 {cyan:K_cyan, gold:K_gold, purple:K_purple, white:K_white, navy:K_navy, red:K_red, black:K_black},
 {cyan:L_cyan, gold:L_gold, purple:L_purple, white:L_white, navy:L_navy, red:L_red, black:L_black}
];

// layout: [left, top, width, height] of each plot area
const boxes = [[42,34,226,144],[336,34,242,144],[645,34,243,144],
 [42,247,227,145],[336,247,242,145],[645,247,243,145],
 [42,461,227,144],[336,461,242,144],[645,461,243,144],
 [42,680,228,129],[336,673,243,131],[645,673,244,131]];
const titlePos = [[147,18],[458,18],[765,18],[147,231],[455,231],[764,231],[147,445],[457,445],[742,445],[146,656],[456,655],[766,653]];

const grids = [], xAxes = [], yAxes = [], series = [];
const lab = {fontSize:8, color:'#4a4a4a', fontFamily:'Liberation Sans'};
boxes.forEach((b,i) => {
  grids.push({left:b[0], top:b[1], width:b[2], height:b[3], show:true, backgroundColor:'#eaeaf2', borderWidth:0});
  xAxes.push({gridIndex:i, type:'value', min:xRange[0], max:xRange[1], interval:xStep,
    axisLine:{show:false}, axisTick:{show:false},
    axisLabel:Object.assign({margin:5, formatter:v=>v.toFixed(2)}, lab),
    splitLine:{lineStyle:{color:'#ffffff', width:1.2}}});
  const yl = v => { const s = v.toFixed(1); return yTickLabels.indexOf(s) >= 0 ? s : ''; };
  yAxes.push({gridIndex:i, type:'value', min:0, max:1, interval:0.2, position:'left',
    axisLine:{show:false}, axisTick:{show:false},
    axisLabel:Object.assign({margin:8, formatter:yl}, lab),
    splitLine:{lineStyle:{color:'#ffffff', width:1.2}}});
  yAxes.push({gridIndex:i, type:'value', min:0, max:1, interval:0.2, position:'right',
    axisLine:{show:false}, axisTick:{show:false},
    axisLabel:Object.assign({margin:7, formatter:yl}, lab),
    splitLine:{show:false}});
});

function line(i, data, color, width, opacity, type) {
  series.push({type:'line', xAxisIndex:i, yAxisIndex:2*i, data:data, showSymbol:false, symbol:'none',
    smooth:0.45, silent:true, animation:false,
    lineStyle:{color:color, width:width, opacity:opacity, type:type || 'solid'}});
}
panels.forEach((p,i) => {
  const row2 = i >= 6;
  p.cyan.forEach((d,k) => line(i, d, '#45b3cf', p.dotted ? 3 : (p.wide ? 2.2 : 2), p.dotted ? 0.9 : (k % 2 ? 0.7 : 0.85), p.dotted ? 'dotted' : 'solid'));
  p.gold.forEach(d => line(i, d, '#d0b055', p.dotted ? 2.6 : (p.wide ? 3 : 2.2), 0.8, p.dotted ? 'dotted' : 'solid'));
  p.purple.forEach(d => line(i, d, '#7c5fab', 3.6, 0.8));
  p.white.forEach(d => line(i, d, '#ffffff', 1.8, 1, [4,3]));
  line(i, p.navy, row2 ? '#1e1b3d' : '#2c2757', row2 ? 1.8 : 2.6, 1);
  if (p.black) line(i, p.black, '#1a1a1a', 1.3, 1);
  line(i, p.red, row2 ? '#d23a33' : '#7a1b28', 2.5, 1);
});

const graphics = [];
titlePos.forEach((t,i) => {
  graphics.push({type:'text', x:t[0], y:t[1], silent:true, style:{
    text:'{b|(' + panelLetters[i] + ')\u2002' + panelNames[i] + '}{a|α}{s|0}{b|=' + alphaValues[i] + '}',
    align:'center', verticalAlign:'middle',
    rich:{
      b:{fontFamily:'Liberation Serif', fontWeight:'bold', fontSize:19, fill:'#111', color:'#111', lineHeight:22},
      a:{fontFamily:'Liberation Serif', fontWeight:'bold', fontStyle:'italic', fontSize:19, fill:'#111', color:'#111', lineHeight:22},
      s:{fontFamily:'Liberation Serif', fontWeight:'bold', fontSize:12, fill:'#111', color:'#111', padding:[8,0,0,0]}
    }}});
});
[[12,105],[12,318],[12,532],[12,746]].forEach(p => {
  graphics.push({type:'text', x:p[0], y:p[1], rotation:Math.PI/2, silent:true,
    style:{text:yAxisTitle, align:'center', verticalAlign:'middle', fontFamily:'Liberation Sans', fontSize:12.5, fill:'#333'}});
});
[[157,831],[457,824],[767,824]].forEach(p => {
  graphics.push({type:'text', x:p[0], y:p[1], silent:true,
    style:{text:xAxisTitle, align:'center', verticalAlign:'middle', fontFamily:'Liberation Sans', fontSize:12.5, fill:'#333'}});
});

const chart = echarts.init(document.getElementById('c'), null, {renderer:'canvas'});
chart.setOption({animation:false, backgroundColor:'#ffffff', grid:grids, xAxis:xAxes, yAxis:yAxes, series:series, graphic:graphics});
</script></body></html>
